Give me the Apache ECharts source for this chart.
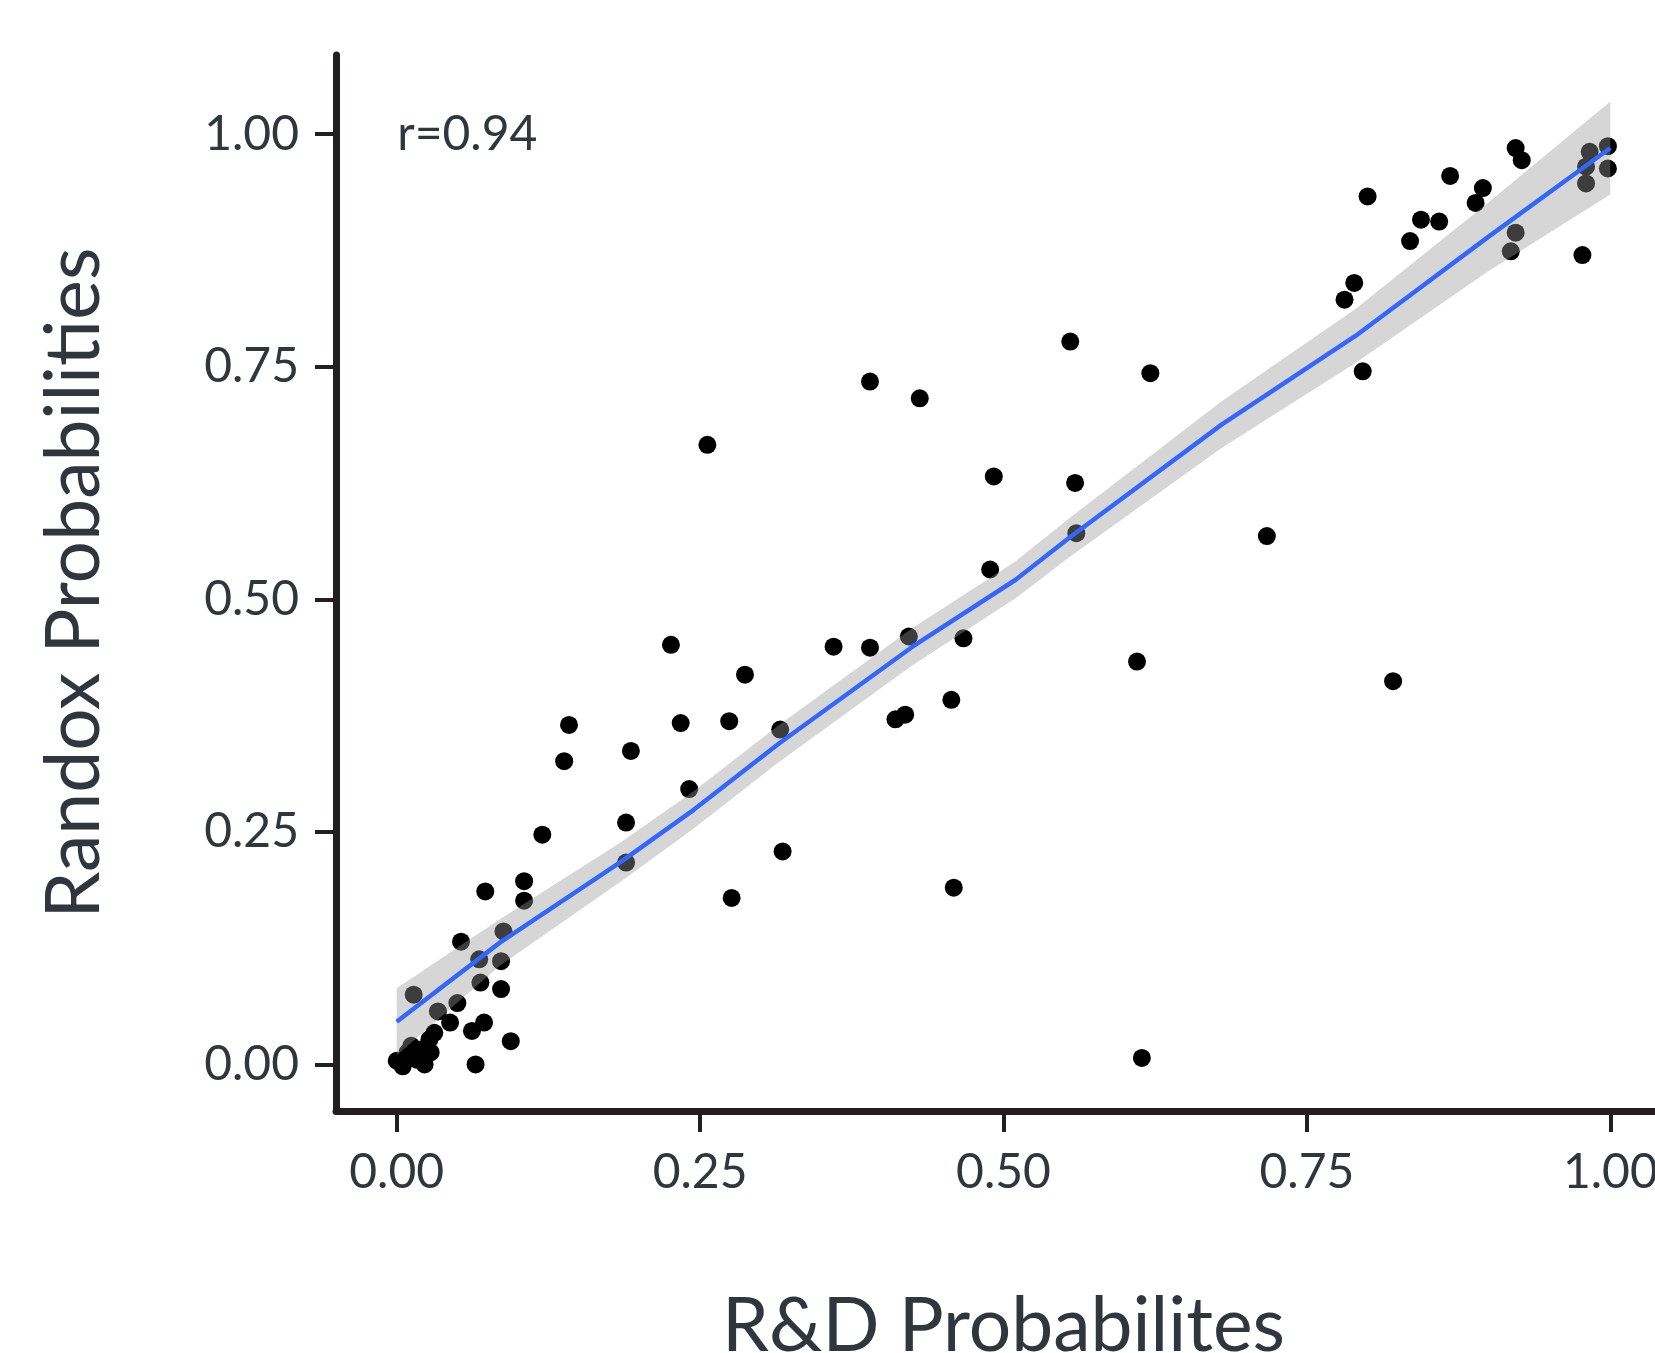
<!DOCTYPE html>
<html>
<head>
<meta charset="utf-8">
<script src="https://cdn.jsdelivr.net/npm/echarts@6/dist/echarts.min.js"></script>
<style>
html,body{margin:0;padding:0;background:#fff;}
#chart{width:1655px;height:1353px;}
</style>
</head>
<body>
<div id="chart"></div>
<script>
// R&D probability (x) vs Randox probability (y)
const rdProb = [
  0.000, 0.005, 0.009, 0.012, 0.017, 0.020, 0.023, 0.027, 0.028, 0.031,
  0.014, 0.034, 0.044, 0.050, 0.053, 0.062, 0.065, 0.072, 0.068, 0.069,
  0.073, 0.086, 0.086, 0.088, 0.094, 0.105, 0.105,
  0.120, 0.138, 0.142, 0.189, 0.189, 0.193, 0.226, 0.234, 0.241, 0.256,
  0.274, 0.276, 0.287, 0.316, 0.318, 0.360, 0.390, 0.390, 0.411, 0.419,
  0.422, 0.431, 0.457, 0.459, 0.467, 0.489, 0.492, 0.555, 0.559, 0.560,
  0.610, 0.614, 0.621, 0.717, 0.781, 0.789, 0.796, 0.800, 0.821, 0.835,
  0.844, 0.859, 0.868, 0.889, 0.895, 0.918, 0.922, 0.922, 0.927, 0.977,
  0.980, 0.980, 0.983, 0.998, 0.998
];
const randoxProb = [
  0.004, -0.002, 0.013, 0.020, 0.005, 0.016, 0.000, 0.027, 0.013, 0.034,
  0.075, 0.057, 0.045, 0.066, 0.132, 0.036, 0.000, 0.045, 0.113, 0.088,
  0.186, 0.081, 0.111, 0.143, 0.025, 0.197, 0.176,
  0.247, 0.326, 0.365, 0.260, 0.217, 0.337, 0.451, 0.367, 0.296, 0.666,
  0.369, 0.179, 0.419, 0.360, 0.229, 0.449, 0.448, 0.734, 0.371, 0.376,
  0.460, 0.716, 0.392, 0.190, 0.458, 0.532, 0.632, 0.777, 0.625, 0.571,
  0.433, 0.007, 0.743, 0.568, 0.822, 0.840, 0.745, 0.933, 0.412, 0.885,
  0.908, 0.906, 0.955, 0.926, 0.942, 0.874, 0.894, 0.985, 0.972, 0.870,
  0.965, 0.947, 0.981, 0.987, 0.963
];

// smoothed fit line and its confidence band
const fitX     = [0.000, 0.085, 0.185, 0.245, 0.315, 0.425, 0.510, 0.555, 0.680, 0.790, 0.900, 1.000];
const fitY     = [0.046, 0.131, 0.218, 0.274, 0.345, 0.449, 0.521, 0.567, 0.688, 0.783, 0.890, 0.985];
const bandUpper= [0.082, 0.156, 0.239, 0.294, 0.365, 0.469, 0.541, 0.588, 0.713, 0.812, 0.927, 1.035];
const bandLower= [0.010, 0.106, 0.197, 0.254, 0.325, 0.429, 0.501, 0.546, 0.663, 0.754, 0.853, 0.935];

// ticks
const tickValues = [0, 0.25, 0.5, 0.75, 1];
const tickLabels = ['0.00', '0.25', '0.50', '0.75', '1.00'];

const corrText = 'r=0.94';
const corrPos = [0, 1.0];

const xTitle = 'R&D Probabilites';
const yTitle = 'Randox Probabilities';

const FONT = 'Lato';
const TXT = '#2f363d';
const AX = '#231f20';

function tickFmt(v) {
  for (let i = 0; i < tickValues.length; i++) {
    if (Math.abs(v - tickValues[i]) < 1e-9) return tickLabels[i];
  }
  return '';
}

const chart = echarts.init(document.getElementById('chart'), null, {renderer: 'canvas'});

const points = rdProb.map((x, i) => [x, randoxProb[i]]);
const fitLine = fitX.map((x, i) => [x, fitY[i]]);
const bandData = fitX.map((x, i) => [x, bandLower[i], bandUpper[i]]);

function axisCommon(name, gap, rotate) {
  return {
    type: 'value',
    name: name,
    nameLocation: 'middle',
    nameGap: gap,
    nameRotate: rotate,
    nameMoveOverlap: false,
    nameTextStyle: {fontFamily: FONT, fontSize: 75, color: TXT},
    splitLine: {show: false},
    axisLine: {show: true, onZero: false, lineStyle: {color: AX, width: 7}},
    axisTick: {show: true, customValues: tickValues, length: 21, lineStyle: {color: AX, width: 4}},
    axisLabel: {show: true, customValues: tickValues, formatter: tickFmt, fontFamily: FONT, fontSize: 48, color: TXT}
  };
}

const xAxis = axisCommon(xTitle, 178, 0);
xAxis.min = -0.05; xAxis.max = 1.05;
xAxis.axisLabel.margin = 38;

const yAxis = axisCommon(yTitle, 224, 90);
yAxis.min = -0.05; yAxis.max = 1.085;
yAxis.axisLabel.margin = 37;

chart.setOption({
  animation: false,
  backgroundColor: '#ffffff',
  grid: {left: 336, top: 55, right: -16, bottom: 242, outerBoundsMode: 'none', containLabel: false},
  xAxis: xAxis,
  yAxis: yAxis,
  series: [
    {
      type: 'scatter',
      data: points,
      symbol: 'circle',
      symbolSize: 18,
      itemStyle: {color: '#000000', opacity: 1},
      z: 2,
      silent: true
    },
    {
      type: 'custom',
      data: bandData,
      z: 3,
      silent: true,
      renderItem: function (params, api) {
        if (params.dataIndex !== 0) return null;
        const pts = [];
        for (let i = 0; i < fitX.length; i++) pts.push(api.coord([fitX[i], bandUpper[i]]));
        for (let i = fitX.length - 1; i >= 0; i--) pts.push(api.coord([fitX[i], bandLower[i]]));
        return {type: 'polygon', shape: {points: pts}, style: {fill: 'rgba(153,153,153,0.4)'}};
      }
    },
    {
      type: 'line',
      data: fitLine,
      showSymbol: false,
      lineStyle: {color: '#3366FF', width: 4.5},
      z: 4,
      silent: true
    },
    {
      type: 'scatter',
      data: [corrPos],
      symbolSize: 1,
      itemStyle: {color: 'rgba(255,255,255,0)', opacity: 1},
      label: {
        show: true, position: 'right', distance: 0,
        formatter: corrText, opacity: 1,
        fontFamily: FONT, fontSize: 48, color: TXT
      },
      z: 5,
      silent: true
    }
  ]
});
</script>
</body>
</html>
